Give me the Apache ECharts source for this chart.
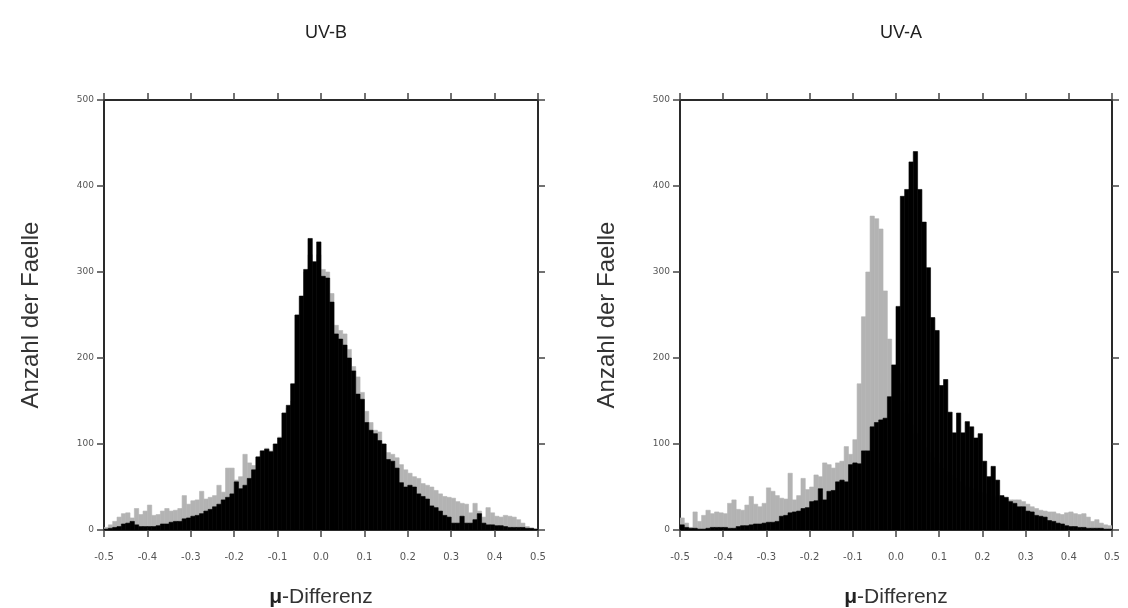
<!DOCTYPE html>
<html>
<head>
<meta charset="utf-8">
<script src="https://cdn.jsdelivr.net/npm/echarts@6/dist/echarts.min.js"></script>
<style>
html,body{margin:0;padding:0;background:#fff;}
#c{width:1128px;height:608px;}
</style>
</head>
<body>
<div id="c"></div>
<script>
// ---- data (histogram counts, bins of width 0.01 from -0.5 to 0.5) ----
const panelTitles = ['UV-B', 'UV-A'];
const xTickMin = -0.5, xTickMax = 0.5, xTickStep = 0.1;
const yTickMin = 0, yTickMax = 500, yTickStep = 100;
const binWidth = 0.01;

const uvbBlack = [
  1, 2, 3, 4, 7, 8, 10, 6, 4, 4,
  4, 4, 5, 7, 7, 9, 10, 10, 13, 14,
  16, 17, 19, 22, 24, 27, 30, 35, 38, 42,
  56, 48, 52, 60, 70, 85, 92, 94, 91, 100,
  107, 136, 145, 170, 250, 272, 303, 339, 312, 335,
  295, 293, 265, 228, 222, 215, 200, 185, 158, 152,
  125, 116, 112, 104, 100, 82, 80, 72, 55, 50,
  52, 50, 42, 39, 36, 28, 26, 22, 17, 15,
  8, 8, 16, 8, 8, 12, 19, 8, 6, 6,
  5, 5, 4, 3, 3, 3, 3, 2, 2, 1
];
const uvbGray = [
  3, 6, 10, 15, 19, 20, 14, 25, 18, 22,
  29, 17, 18, 22, 25, 22, 23, 25, 40, 30,
  34, 35, 45, 36, 38, 40, 52, 44, 72, 72,
  58, 62, 88, 78, 75, 85, 92, 95, 92, 100,
  108, 136, 142, 150, 250, 270, 300, 320, 310, 320,
  303, 300, 275, 238, 232, 228, 210, 190, 178, 160,
  138, 125, 116, 114, 100, 90, 88, 84, 76, 70,
  66, 62, 60, 54, 52, 50, 46, 42, 39, 38,
  37, 33, 31, 30, 20, 31, 22, 15, 26, 20,
  16, 15, 17, 16, 15, 12, 8, 4, 2, 1
];
const uvaBlack = [
  6, 3, 2, 2, 1, 1, 2, 3, 3, 3,
  3, 2, 2, 4, 5, 5, 6, 7, 7, 8,
  9, 9, 10, 16, 17, 20, 21, 22, 25, 26,
  33, 34, 48, 35, 45, 46, 56, 58, 56, 76,
  78, 77, 92, 92, 120, 125, 128, 130, 155, 192,
  260, 388, 396, 428, 440, 396, 358, 305, 247, 232,
  168, 175, 137, 113, 136, 113, 126, 120, 107, 112,
  80, 62, 74, 58, 40, 38, 33, 31, 27, 27,
  22, 21, 17, 16, 15, 11, 10, 8, 7, 5,
  4, 4, 3, 3, 2, 2, 2, 2, 1, 1
];
const uvaGray = [
  14, 8, 3, 21, 10, 17, 23, 19, 21, 20,
  19, 31, 35, 24, 23, 29, 39, 30, 27, 31,
  49, 45, 40, 37, 36, 66, 35, 40, 60, 47,
  50, 64, 62, 78, 76, 72, 78, 80, 97, 88,
  105, 170, 248, 300, 365, 362, 350, 278, 222, 190,
  170, 150, 135, 122, 112, 104, 96, 90, 84, 78,
  72, 68, 64, 60, 56, 52, 50, 48, 46, 44,
  42, 40, 39, 38, 37, 36, 35, 35, 35, 33,
  30, 27, 25, 23, 22, 21, 21, 19, 18, 20,
  21, 19, 18, 19, 15, 10, 12, 8, 6, 5
];

// bin left edges (categories)
const binStarts = uvbBlack.map((_, i) => +(xTickMin + i * binWidth).toFixed(2));

// ---- chart ----
const chart = echarts.init(document.getElementById('c'), null, {renderer: 'canvas'});

const grids = [
  {left: 104, top: 100, width: 434, height: 430, outerBoundsMode: 'none', containLabel: false},
  {left: 680, top: 100, width: 432, height: 430, outerBoundsMode: 'none', containLabel: false}
];
const frameColor = '#2a2a2a';
const labelColor = '#555';
const sans = 'Liberation Sans, Arial, sans-serif';

function histSeries(gi, vals, color, z) {
  return {
    type: 'custom',
    xAxisIndex: gi * 2,
    yAxisIndex: gi * 2,
    z: z,
    clip: true,
    silent: true,
    data: vals.map((v, i) => [binStarts[i], +(binStarts[i] + binWidth).toFixed(2), v]),
    encode: {x: [0, 1], y: 2},
    renderItem: function (params, api) {
      const p0 = api.coord([api.value(0), 0]);
      const p1 = api.coord([api.value(1), api.value(2)]);
      return {
        type: 'rect',
        shape: {x: p0[0], y: p1[1], width: p1[0] - p0[0], height: p0[1] - p1[1]},
        style: {fill: color, stroke: color, lineWidth: 0.6}
      };
    }
  };
}

const xAxes = [], yAxes = [], titles = [];
grids.forEach((g, gi) => {
  titles.push({
    text: panelTitles[gi],
    left: g.left + g.width / 2,
    top: 19,
    textAlign: 'center',
    textStyle: {fontFamily: sans, fontSize: 18, fontWeight: 'normal', color: '#222'}
  });
  const common = {
    gridIndex: gi, type: 'value', min: xTickMin, max: xTickMax, interval: xTickStep,
    splitLine: {show: false},
    axisLine: {show: true, onZero: false, lineStyle: {color: frameColor, width: 2}},
    axisTick: {show: true, length: 7, lineStyle: {color: '#444', width: 1.5}}
  };
  xAxes.push(Object.assign({}, common, {
    position: 'bottom',
    name: '{b|\u03bc}-Differenz',
    nameLocation: 'middle',
    nameGap: 57,
    nameTextStyle: {
      fontFamily: sans, fontSize: 21, color: '#333',
      rich: {b: {fontWeight: 'bold', fontSize: 21, color: '#222', fontFamily: sans}}
    },
    axisLabel: {
      margin: 22, fontSize: 10, color: labelColor,
      fontFamily: 'DejaVu Sans, sans-serif',
      formatter: v => (Math.abs(v) < 1e-9 ? 0 : v).toFixed(1)
    }
  }));
  xAxes.push(Object.assign({}, common, {position: 'top', axisLabel: {show: false}}));
  const ycommon = {
    gridIndex: gi, type: 'value', min: yTickMin, max: yTickMax, interval: yTickStep,
    splitLine: {show: false},
    axisLine: {show: true, onZero: false, lineStyle: {color: frameColor, width: 2}},
    axisTick: {show: true, length: 7, lineStyle: {color: '#444', width: 1.5}}
  };
  yAxes.push(Object.assign({}, ycommon, {
    position: 'left',
    name: 'Anzahl der Faelle',
    nameLocation: 'middle',
    nameGap: 61,
    nameTextStyle: {fontFamily: sans, fontSize: 24, color: '#333'},
    axisLabel: {margin: 10, fontSize: 9, color: labelColor, fontFamily: 'DejaVu Sans, sans-serif'}
  }));
  yAxes.push(Object.assign({}, ycommon, {position: 'right', axisLabel: {show: false}}));
});

chart.setOption({
  backgroundColor: '#fff',
  animation: false,
  title: titles,
  grid: grids,
  xAxis: xAxes,
  yAxis: yAxes,
  series: [
    histSeries(0, uvbGray, '#b3b3b3', 1),
    histSeries(0, uvbBlack, '#000000', 2),
    histSeries(1, uvaGray, '#b3b3b3', 1),
    histSeries(1, uvaBlack, '#000000', 2)
  ]
});
</script>
</body>
</html>
